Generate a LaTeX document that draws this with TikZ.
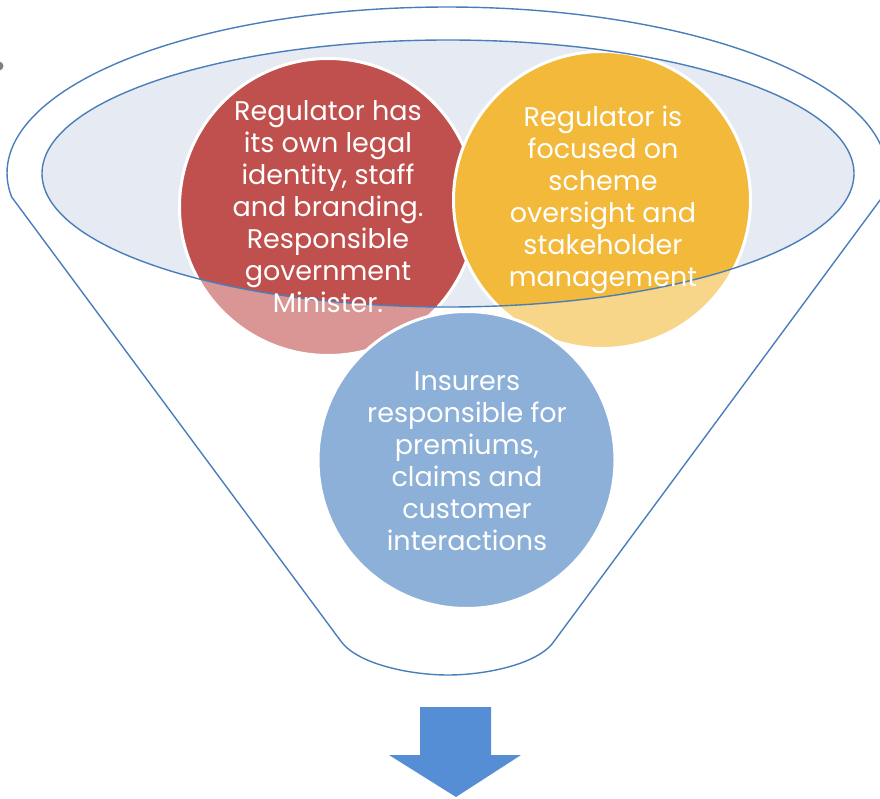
\documentclass[tikz,border=0pt]{standalone}
\usepackage{fontspec}
\setmainfont{Poppins}
\definecolor{cred}{HTML}{C0504D}
\definecolor{cyellow}{HTML}{F2B93B}
\definecolor{cblue}{HTML}{427CBE}
\definecolor{ellfill}{HTML}{E5EAF3}
\definecolor{outl}{HTML}{4A7EBB}
\definecolor{arrowblue}{HTML}{558ED5}
\definecolor{dotgrey}{HTML}{808080}
\begin{document}
\begin{tikzpicture}[x=1pt,y=-1pt,
  bubble/.style={circle, minimum size=297pt, inner sep=0pt, draw=white, line width=3pt},
  txt/.style={text=white, align=center, font=\fontsize{27}{32}\selectfont, inner sep=0pt},
  outline/.style={draw=outl, line width=1.4pt}]
\useasboundingbox (0,0) rectangle (880,799);
% bullet dot
\fill[dotgrey] (-1,66) circle [radius=4.5];
% inner ellipse fill
\fill[ellfill] (448,173.5) ellipse [x radius=406, y radius=133.5];
% circles
\node[bubble, fill=cred] (red) at (328,207) {};
\node[bubble, fill=cyellow] (yellow) at (602,200) {};
\node[bubble, fill=cblue] (blue) at (466.5,460) {};
% white veil over funnel body outside the inner ellipse
\fill[white, opacity=0.4, even odd rule]
  plot[domain=-8.3:188.3, samples=120, variable=\t] ({447+440*cos(\t)}, {173-166*sin(\t)})
  -- (340,640) .. controls (356,664) and (410,675) .. (448,675)
  .. controls (486,675) and (540,664) .. (555,640) -- cycle
  (448,173.5) ellipse [x radius=406, y radius=133.5];
% outlines
\draw[outline] (448,173.5) ellipse [x radius=406, y radius=133.5];
\draw[outline, line join=round]
  plot[domain=-8.3:188.3, samples=120, variable=\t] ({447+440*cos(\t)}, {173-166*sin(\t)})
  -- (340,640) .. controls (356,664) and (410,675) .. (448,675)
  .. controls (486,675) and (540,664) .. (555,640) -- cycle;
% texts
\node[txt] (redtxt) at (328,207) {Regulator has\\its own legal\\identity, staff\\and branding.\\Responsible\\government\\Minister.};
\node[txt] (yellowtxt) at (603,200) {Regulator is\\focused on\\scheme\\oversight and\\stakeholder\\management};
\node[txt] (bluetxt) at (467,461) {Insurers\\responsible for\\premiums,\\claims and\\customer\\interactions};
% arrow
\fill[arrowblue] (420,707) -- (491,707) -- (491,755) -- (521,755) -- (456,797) -- (389,755) -- (420,755) -- cycle;
\end{tikzpicture}
\end{document}
